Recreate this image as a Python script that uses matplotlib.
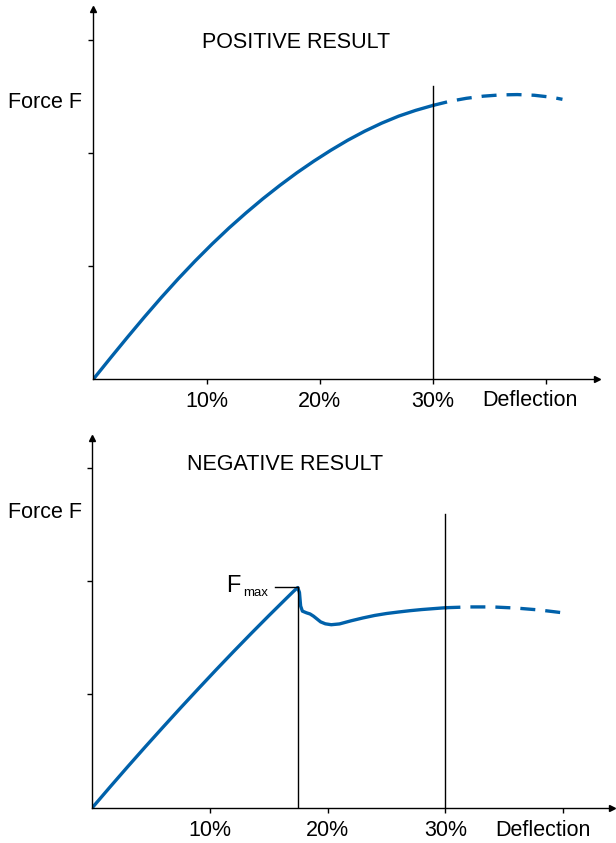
import numpy as np
import matplotlib
matplotlib.use("Agg")
import matplotlib.pyplot as plt

plt.rcParams["font.family"] = ["Liberation Sans", "DejaVu Sans"]

# top panel: positive result (deflection in %, force in tick units)
pos_x = [0, 1.5, 3, 4.5, 6, 7.5, 9, 10.5, 12, 13.5, 15, 16.5, 18, 19.5, 21,
         22.5, 24, 25.5, 27, 28.5, 30]
pos_y = [0, 0.186, 0.369, 0.548, 0.721, 0.887, 1.045, 1.195, 1.337, 1.470,
         1.596, 1.714, 1.825, 1.928, 2.024, 2.113, 2.193, 2.264, 2.326,
         2.377, 2.42]
pos_dash_x = [30, 31.5, 33, 34.5, 36, 37.5, 39, 40.5, 41.5]
pos_dash_y = [2.42, 2.457, 2.484, 2.503, 2.514, 2.517, 2.511, 2.494, 2.475]

# bottom panel: negative result
neg_x = [0, 1.5, 3, 4.5, 6, 7.5, 9, 10.5, 12, 13.5, 15, 16.5, 17.1, 17.45,
         17.6, 17.7, 17.85, 18.2, 18.5, 18.8, 19.1, 19.4, 19.8, 20.3, 21, 22,
         23, 24, 25, 26, 27, 28, 29, 30]
neg_y = [0, 0.182, 0.361, 0.537, 0.710, 0.881, 1.049, 1.215, 1.378, 1.538,
         1.695, 1.849, 1.91, 1.943, 1.90, 1.78, 1.735, 1.72, 1.71, 1.69,
         1.665, 1.64, 1.623, 1.615, 1.622, 1.65, 1.675, 1.697, 1.714, 1.727,
         1.739, 1.749, 1.757, 1.765]
neg_dash_x = [30, 32, 34, 36, 38, 40]
neg_dash_y = [1.765, 1.772, 1.772, 1.762, 1.745, 1.72]

f_max_x = 17.45
f_max_y = 1.95

xticks = [10, 20, 30, 40]
xtick_labels = ["10%", "20%", "30%", ""]
yticks = [1, 2, 3]

blue = "#0061AA"
W, H = 616, 843


def make_axes(fig, x0, x1, y0, y1, px_per_x, px_per_y):
    ax = fig.add_axes([x0 / W, (H - y0) / H, (x1 - x0) / W, (y0 - y1) / H])
    ax.set_xlim(0, (x1 - x0) / px_per_x)
    ax.set_ylim(0, (y0 - y1) / px_per_y)
    for s in ["top", "right"]:
        ax.spines[s].set_visible(False)
    for s in ["left", "bottom"]:
        ax.spines[s].set_linewidth(1.0)
    ax.set_xticks(xticks)
    ax.set_xticklabels(xtick_labels)
    ax.set_yticks(yticks)
    ax.set_yticklabels([])
    ax.tick_params(length=3.6, width=1.0, direction="out", labelsize=15.5, pad=5)
    ax.plot(1, 0, ">k", ms=5, transform=ax.transAxes, clip_on=False)
    ax.plot(0, 1, "^k", ms=5, transform=ax.transAxes, clip_on=False)
    return ax


fig = plt.figure(figsize=(W / 100, H / 100), dpi=100)

# --- positive ---
ax1 = make_axes(fig, 93.5, 597, 379, 9, 11.3, 113)
ax1.plot(pos_x, pos_y, color=blue, lw=2.4, solid_joinstyle="round")
ax1.plot(pos_dash_x, pos_dash_y, color=blue, lw=2.4, dashes=(4.5, 3.0))
ax1.plot([30, 30], [0, 2.59], color="k", lw=1.0)
fig.text(201.5 / W, 1 - 42 / H, "POSITIVE RESULT", fontsize=15.5, va="center")
fig.text(8 / W, 1 - 102 / H, "Force F", fontsize=15.5, va="center")
fig.text(482.5 / W, 1 - 400.5 / H, "Deflection", fontsize=15.5, va="center")

# --- negative ---
ax2 = make_axes(fig, 92.3, 612, 807.7, 438, 11.77, 113.3)
ax2.plot(neg_x, neg_y, color=blue, lw=2.4, solid_joinstyle="round")
ax2.plot(neg_dash_x, neg_dash_y, color=blue, lw=2.4, dashes=(4.5, 3.0))
ax2.plot([30, 30], [0, 2.59], color="k", lw=1.0)
ax2.plot([f_max_x, f_max_x], [0, f_max_y], color="k", lw=1.0)
ax2.plot([15.5, f_max_x], [f_max_y, f_max_y], color="k", lw=1.0)
fig.text(226 / W, 1 - 592 / H, "F", fontsize=17, va="baseline")
fig.text(243 / W, 1 - 596 / H, "max", fontsize=9.5, va="baseline")
fig.text(186.5 / W, 1 - 465 / H, "NEGATIVE RESULT", fontsize=15.5, va="center")
fig.text(8 / W, 1 - 512 / H, "Force F", fontsize=15.5, va="center")
fig.text(495 / W, 1 - 830 / H, "Deflection", fontsize=15.5, va="center")

fig.savefig("out.png", dpi=100)
